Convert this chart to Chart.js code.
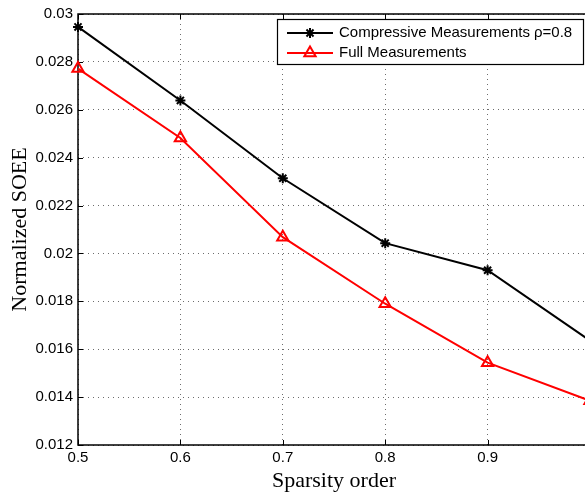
<!DOCTYPE html>
<html>
<head>
<meta charset="utf-8">
<script src="https://cdn.jsdelivr.net/npm/chart.js@4"></script>
<style>
  html, body { margin: 0; padding: 0; background: #fff; overflow: hidden; }
  #wrap { width: 600px; height: 494px; }
</style>
</head>
<body>
<div id="wrap"><canvas id="chart" width="600" height="494"></canvas></div>
<script>
// data
const sparsity = [0.5, 0.6, 0.7, 0.8, 0.9, 1.0];
const compressive = [0.02946, 0.02639, 0.02314, 0.02043, 0.01930, 0.01636];
const full = [0.02772, 0.02482, 0.02068, 0.01790, 0.01544, 0.01385];

const xTicks = [0.5, 0.6, 0.7, 0.8, 0.9, 1];
const xTickLabels = ['0.5', '0.6', '0.7', '0.8', '0.9', '1'];
const yTicks = [0.012, 0.014, 0.016, 0.018, 0.02, 0.022, 0.024, 0.026, 0.028, 0.03];
const yTickLabels = ['0.012', '0.014', '0.016', '0.018', '0.02', '0.022', '0.024', '0.026', '0.028', '0.03'];

const seriesNames = ['Compressive Measurements \u03C1=0.8', 'Full Measurements'];

const tickFont = { family: 'Liberation Sans', size: 15 };
const gridColor = 'rgba(60,60,60,0.75)';

// box, inward ticks, axis titles and the legend (matlab style)
const matlabAxes = {
  id: 'matlabAxes',
  beforeDatasetsDraw(chart) {
    const { ctx, chartArea: a, scales } = chart;
    ctx.save();
    ctx.strokeStyle = '#000';
    ctx.lineWidth = 1.5;
    ctx.strokeRect(a.left, a.top, a.right - a.left, a.bottom - a.top);
    ctx.lineWidth = 1;
    ctx.beginPath();
    xTicks.forEach(v => {
      const x = Math.round(scales.x.getPixelForValue(v)) + 0.5;
      ctx.moveTo(x, a.bottom); ctx.lineTo(x, a.bottom - 5);
      ctx.moveTo(x, a.top); ctx.lineTo(x, a.top + 5);
    });
    yTicks.forEach(v => {
      const y = Math.round(scales.y.getPixelForValue(v)) + 0.5;
      ctx.moveTo(a.left, y); ctx.lineTo(a.left + 5, y);
      ctx.moveTo(a.right, y); ctx.lineTo(a.right - 5, y);
    });
    ctx.stroke();
    ctx.restore();
  },
  afterDraw(chart) {
    const { ctx, chartArea: a } = chart;
    ctx.save();
    // axis titles
    ctx.fillStyle = '#000';
    ctx.font = '22px "Liberation Serif"';
    ctx.textAlign = 'center';
    ctx.textBaseline = 'middle';
    ctx.fillText('Sparsity order', (a.left + a.right) / 2, 481);
    ctx.translate(20, (a.top + a.bottom) / 2);
    ctx.rotate(-Math.PI / 2);
    ctx.fillText('Normalized SOEE', 0, 0);
    ctx.restore();

    // legend
    ctx.save();
    const bx = 277, by = 19, bw = 306, bh = 45;
    ctx.fillStyle = '#fff';
    ctx.fillRect(bx, by, bw, bh);
    ctx.strokeStyle = '#000';
    ctx.lineWidth = 1.2;
    ctx.strokeRect(bx + 0.5, by + 0.5, bw, bh);
    chart.data.datasets.forEach((ds, i) => {
      const y = by + 14 + i * 20;
      ctx.strokeStyle = ds.borderColor;
      ctx.lineWidth = ds.borderWidth;
      ctx.beginPath();
      ctx.moveTo(287, y); ctx.lineTo(333, y);
      ctx.stroke();
      ctx.lineWidth = ds.pointBorderWidth;
      ctx.beginPath();
      const r = ds.pointRadius, cx = 310;
      if (ds.pointStyle === 'star') {
        for (let k = 0; k < 4; k++) {
          const t = k * Math.PI / 4;
          ctx.moveTo(cx - r * Math.cos(t), y - r * Math.sin(t));
          ctx.lineTo(cx + r * Math.cos(t), y + r * Math.sin(t));
        }
      } else {
        for (let k = 0; k < 3; k++) {
          const t = k * 2 * Math.PI / 3;
          const px = cx + Math.sin(t) * r, py = y - Math.cos(t) * r;
          if (k === 0) ctx.moveTo(px, py); else ctx.lineTo(px, py);
        }
        ctx.closePath();
      }
      ctx.stroke();
      ctx.fillStyle = '#000';
      ctx.font = '15px "Liberation Sans"';
      ctx.textAlign = 'left';
      ctx.textBaseline = 'middle';
      ctx.fillText(ds.label, 339, y);
    });
    ctx.restore();
  }
};

new Chart(document.getElementById('chart'), {
  type: 'line',
  data: {
    datasets: [
      {
        label: seriesNames[0],
        data: sparsity.map((x, i) => ({ x: x, y: compressive[i] })),
        borderColor: '#000',
        borderWidth: 2,
        pointStyle: 'star',
        pointRadius: 5,
        pointBorderWidth: 2,
        pointBorderColor: '#000',
        pointBackgroundColor: '#000',
        clip: false
      },
      {
        label: seriesNames[1],
        data: sparsity.map((x, i) => ({ x: x, y: full[i] })),
        borderColor: '#ff0000',
        borderWidth: 2,
        pointStyle: 'triangle',
        pointRadius: 6.5,
        pointBorderWidth: 2,
        pointBorderColor: '#ff0000',
        pointBackgroundColor: 'rgba(0,0,0,0)',
        clip: false
      }
    ]
  },
  options: {
    responsive: false,
    animation: false,
    layout: { padding: { top: 11, right: 10, left: 0, bottom: 0 } },
    plugins: {
      legend: { display: false },
      tooltip: { enabled: false }
    },
    elements: { line: { tension: 0 } },
    scales: {
      x: {
        type: 'linear',
        min: 0.5,
        max: 1,
        afterBuildTicks: s => { s.ticks = xTicks.map(v => ({ value: v })); },
        afterFit: s => { s.height = 49; },
        ticks: {
          font: tickFont,
          color: '#000',
          padding: 4,
          maxRotation: 0,
          callback: v => xTickLabels[xTicks.indexOf(v)]
        },
        grid: { color: gridColor, lineWidth: 1, drawTicks: false },
        border: { display: false, dash: [1, 4] }
      },
      y: {
        type: 'linear',
        min: 0.012,
        max: 0.03,
        afterBuildTicks: s => { s.ticks = yTicks.map(v => ({ value: v })); },
        afterFit: s => { s.width = 78; },
        ticks: {
          font: tickFont,
          color: '#000',
          padding: 5,
          callback: v => yTickLabels[yTicks.indexOf(v)]
        },
        grid: { color: gridColor, lineWidth: 1, drawTicks: false },
        border: { display: false, dash: [1, 4] }
      }
    }
  },
  plugins: [matlabAxes]
});
</script>
</body>
</html>
